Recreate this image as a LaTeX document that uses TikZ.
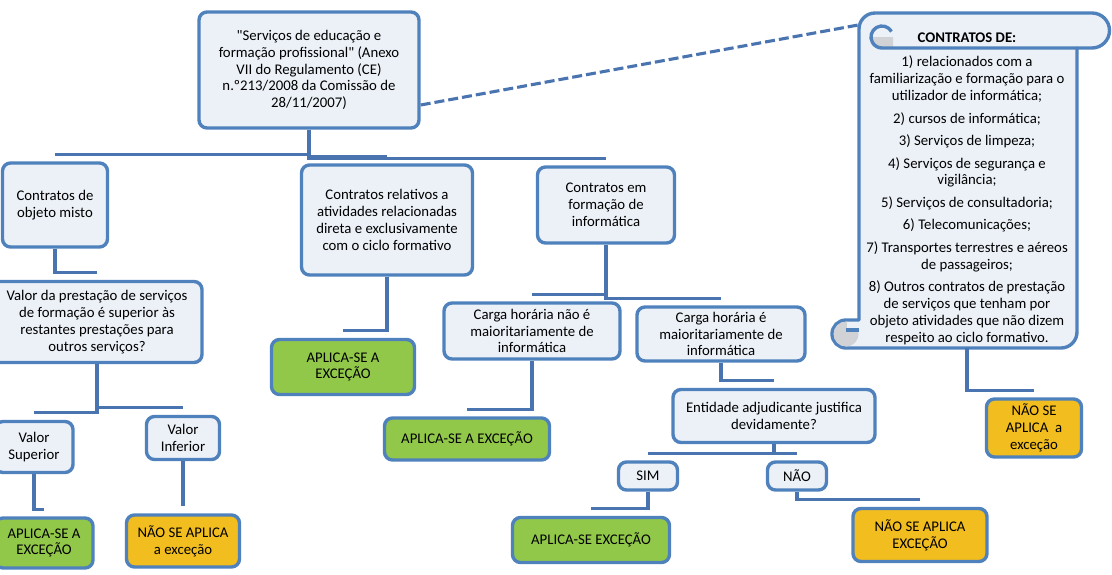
\documentclass[tikz,border=0pt]{standalone}
\usepackage{fontspec}
\setmainfont{Carlito}[Ligatures=TeXOff]
\usetikzlibrary{calc}
\definecolor{boxblue}{RGB}{79,129,189}
\definecolor{linkblue}{RGB}{74,116,176}
\definecolor{boxfill}{RGB}{236,241,248}
\definecolor{yesfill}{RGB}{146,200,74}
\definecolor{nofill}{RGB}{242,189,30}
\definecolor{curlgrey}{RGB}{208,210,214}
\newcommand{\branch}[2]{
  \draw[link] (#1.south) |- ($(#2.north)+(0,-7)$);}

\begin{document}
\begin{tikzpicture}[x=0.025cm, y=-0.025cm]

\tikzset{ box/.style={draw=boxblue, line width=2.4pt, rounded corners=2mm,
    fill=boxfill, inner sep=0pt, align=center,
    font=\fontsize{10.5}{12}\selectfont},
  yesbox/.style={box, fill=yesfill},
  nobox/.style={box, fill=nofill},
  boxdim/.style 2 args={minimum width=#1*0.025cm, minimum height=#2*0.025cm},
  link/.style={draw=linkblue, line width=2.2pt},
  scrolline/.style={draw=boxblue, line width=2.4pt, line join=round}
}

\useasboundingbox (0,0) rectangle (1112,574);

% Scroll
\filldraw[scrolline, fill=boxfill] (846,348) -- (1061,348) arc (90:0:16) --
  (1077,48) -- (1092,48) arc (90:-90:17.5) -- (875,13) arc (-90:-180:16) --
  (859,320) -- (846,320) arc (-90:-270:14) -- cycle;
\fill[curlgrey] (871,37) arc (180:90:11) -- (893,48) -- (893,37) -- cycle;
\draw[scrolline] (891.5,31.5) arc (-30:-270:11) -- (1077,48);
\fill[curlgrey] (846,334) circle (12.5);
\fill[boxfill] (847,322) rectangle (857.5,330);
\draw[scrolline] (846,330) -- (859,330);

\node[align=center, inner sep=0pt, boxdim={219}{318},
  font=\fontsize{10.5}{12}\selectfont] (contratos) at (967,189) {
  \textbf{CONTRATOS DE:}\\[5pt]
  1) relacionados com a\\familiarização e formação para o\\utilizador de informática;\\[4pt]
  2) cursos de informática;\\[4pt]
  3) Serviços de limpeza;\\[4pt]
  4) Serviços de segurança e\\vigilância;\\[4pt]
  5) Serviços de consultadoria;\\[4pt]
  6) Telecomunicações;\\[4pt]
  7) Transportes terrestres e aéreos\\de passageiros;\\[4pt]
  8) Outros contratos de prestação\\de serviços que tenham por\\objeto atividades que não dizem\\respeito ao ciclo formativo.};

% Top level
\node[box, boxdim={220}{116}] (root) at (309,70)
  {"Serviços de educação e\\formação profissional" (Anexo\\VII do Regulamento (CE)\\n.º213/2008 da Comissão de\\28/11/2007)};
\node[box, boxdim={105}{84}] (misto) at (55,205) {Contratos de\\objeto misto};
\node[box, boxdim={171}{110}] (relativos) at (387,220)
  {Contratos relativos a\\atividades relacionadas\\direta e exclusivamente\\com o ciclo formativo};
\node[box, boxdim={137}{76}] (info) at (606,205) {Contratos em\\formação de\\informática};

% Objeto misto
\node[box, boxdim={210}{81}] (valor) at (97,322)
  {Valor da prestação de serviços\\de formação é superior às\\restantes prestações para\\outros serviços?};
\node[box, boxdim={78}{51}] (superior) at (34,447) {Valor\\Superior};
\node[box, boxdim={73}{43}] (inferior) at (183,438) {Valor\\Inferior};
\node[yesbox, boxdim={98}{50}] (aplica1) at (44,543) {APLICA-SE A\\EXCEÇÃO};
\node[nobox, boxdim={113}{52}] (naoaplica1) at (183,541) {NÃO SE APLICA\\a exceção};

% Ciclo formativo
\node[yesbox, boxdim={143}{55}] (aplica2) at (343,367) {APLICA-SE A\\EXCEÇÃO};

% Informatica
\node[box, boxdim={176}{56}] (carganao) at (532,331) {Carga horária não é\\maioritariamente de\\informática};
\node[box, boxdim={168}{54}] (cargasim) at (721,334) {Carga horária é\\maioritariamente de\\informática};
\node[yesbox, boxdim={165}{42}] (aplica3) at (467,439) {APLICA-SE A EXCEÇÃO};
\node[box, boxdim={202}{53}] (entidade) at (774,416) {Entidade adjudicante justifica\\devidamente?};
\node[box, boxdim={59}{28}] (sim) at (648,476) {SIM};
\node[box, boxdim={59}{28}] (nao) at (797,476) {NÃO};
\node[yesbox, boxdim={157}{45}] (aplica4) at (591,540) {APLICA-SE EXCEÇÃO};
\node[nobox, boxdim={134}{53}] (naoaplica2) at (920,535) {NÃO SE APLICA\\EXCEÇÃO};

% Contratos de
\node[nobox, boxdim={95}{58}] (naoaplica3) at (1034,428) {NÃO SE\\APLICA\ \ a\\exceção};

% Links
\draw[link, dash pattern=on 0.25cm off 0.1cm] ($(root.east)+(0,35)$) -- ($(contratos.north west)+(2.5,-5)$);
\branch{root}{misto}
\branch{root}{relativos}
\branch{root}{info}
\branch{misto}{valor}
\branch{valor}{superior}
\branch{valor}{inferior}
\branch{superior}{aplica1}
\branch{inferior}{naoaplica1}
\branch{relativos}{aplica2}
\branch{info}{carganao}
\branch{info}{cargasim}
\branch{carganao}{aplica3}
\branch{cargasim}{entidade}
\branch{entidade}{sim}
\branch{entidade}{nao}
\branch{sim}{aplica4}
\branch{nao}{naoaplica2}
\branch{contratos}{naoaplica3}

\end{tikzpicture}
\end{document}
